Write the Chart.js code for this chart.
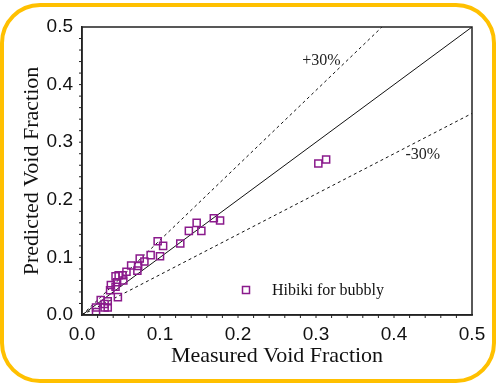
<!DOCTYPE html>
<html>
<head>
<meta charset="utf-8">
<script src="https://cdn.jsdelivr.net/npm/chart.js@4.4.1/dist/chart.umd.min.js"></script>
<style>
    html, body { margin: 0; padding: 0; background: #fff; }
    #wrap { position: relative; width: 496px; height: 383px; }
    #frame {
        position: absolute; left: 0; top: 3px; width: 496px; height: 380px;
        box-sizing: border-box; border: 4px solid #FFC000; border-radius: 40px;
        pointer-events: none;
    }
</style>
</head>
<body>
<div id="wrap">
    <canvas id="voidChart" width="496" height="383"></canvas>
    <div id="frame"></div>
</div>
<script>
// measured vs predicted void fraction (Hibiki, bubbly flow)
var measured = [0.303, 0.313, 0.169, 0.177, 0.147, 0.137, 0.153, 0.126, 0.097, 0.104,
                0.100, 0.088, 0.080, 0.074, 0.072, 0.071, 0.063, 0.057, 0.052, 0.053,
                0.047, 0.043, 0.045, 0.043, 0.037, 0.036, 0.046, 0.033, 0.024, 0.029,
                0.033, 0.029, 0.018, 0.018];
var predicted = [0.263, 0.270, 0.168, 0.164, 0.160, 0.146, 0.146, 0.124, 0.128, 0.120,
                 0.102, 0.104, 0.093, 0.098, 0.085, 0.077, 0.086, 0.075, 0.069, 0.060,
                 0.069, 0.067, 0.057, 0.049, 0.052, 0.043, 0.031, 0.024, 0.026, 0.019,
                 0.013, 0.013, 0.013, 0.005];

// reference lines: perfect agreement and +/-30%
var perfectLine = [{x: 0, y: 0}, {x: 0.5, y: 0.5}];
var plus30Line = [{x: 0, y: 0}, {x: 0.3846, y: 0.5}];
var minus30Line = [{x: 0, y: 0}, {x: 0.5, y: 0.35}];

var axisTicks = [0, 0.1, 0.2, 0.3, 0.4, 0.5];
var minorStep = 0.02;
var seriesLabel = 'Hibiki for bubbly';
var markerColor = '#8a1a8c';

var points = measured.map(function(x, i) {
    return { x: x, y: predicted[i] };
});

var extras = {
    id: 'extras',
    afterDraw: function(chart) {
        var ctx = chart.ctx;
        var a = chart.chartArea;
        var xs = chart.scales.x, ys = chart.scales.y;
        ctx.save();

        // box around plot
        ctx.strokeStyle = '#222';
        ctx.lineWidth = 1.5;
        ctx.strokeRect(a.left, a.top, a.right - a.left, a.bottom - a.top);

        // minor ticks
        ctx.lineWidth = 1;
        ctx.beginPath();
        for (var v = minorStep; v < 0.5; v += minorStep) {
            var px = xs.getPixelForValue(v);
            ctx.moveTo(px, a.bottom); ctx.lineTo(px, a.bottom + 3);
            var py = ys.getPixelForValue(v);
            ctx.moveTo(a.left, py); ctx.lineTo(a.left - 3, py);
        }
        ctx.stroke();

        // line labels
        ctx.fillStyle = '#222';
        ctx.font = '16px "Liberation Serif", serif';
        ctx.textAlign = 'center';
        ctx.textBaseline = 'middle';
        ctx.fillText('+30%', xs.getPixelForValue(0.307), ys.getPixelForValue(0.441));
        ctx.fillText('-30%', xs.getPixelForValue(0.437), ys.getPixelForValue(0.278));

        // legend inside the plot
        var lx = a.left + 164, ly = a.bottom - 25;
        ctx.strokeStyle = markerColor;
        ctx.lineWidth = 1.5;
        ctx.strokeRect(lx - 3.5, ly - 3.5, 7, 7);
        ctx.textAlign = 'left';
        ctx.fillStyle = '#111';
        ctx.fillText(seriesLabel, lx + 26, ly + 1);
        ctx.restore();
    }
};

var ctx = document.getElementById('voidChart').getContext('2d');
var voidChart = new Chart(ctx, {
    type: 'scatter',
    data: {
        datasets: [
            {
                label: seriesLabel,
                data: points,
                pointStyle: 'rect',
                pointRadius: 5,
                borderColor: markerColor,
                backgroundColor: 'rgba(0,0,0,0)',
                borderWidth: 1.5,
                order: 0
            },
            {
                type: 'line',
                data: perfectLine,
                borderColor: '#111',
                borderWidth: 1,
                pointRadius: 0,
                order: 1
            },
            {
                type: 'line',
                data: plus30Line,
                borderColor: '#111',
                borderWidth: 1,
                borderDash: [3, 3],
                pointRadius: 0,
                order: 1
            },
            {
                type: 'line',
                data: minus30Line,
                borderColor: '#111',
                borderWidth: 1,
                borderDash: [3, 3],
                pointRadius: 0,
                order: 1
            }
        ]
    },
    options: {
        responsive: false,
        animation: false,
        layout: { padding: { top: 27, right: 24, left: 0, bottom: 0 } },
        plugins: {
            legend: { display: false },
            tooltip: { enabled: false }
        },
        scales: {
            x: {
                type: 'linear',
                min: 0, max: 0.5,
                afterBuildTicks: function(scale) {
                    scale.ticks = axisTicks.map(function(v) { return { value: v }; });
                },
                afterFit: function(scale) { scale.height = 68; },
                grid: { display: false, drawTicks: true, tickLength: 5, tickColor: '#222' },
                border: { display: true, color: '#222', width: 1.5 },
                ticks: {
                    padding: 3,
                    color: '#111',
                    font: { family: '"Liberation Sans", Arial, sans-serif', size: 19 },
                    callback: function(v) { return v.toFixed(1); }
                },
                title: {
                    display: true,
                    text: 'Measured Void Fraction',
                    color: '#111',
                    font: { family: '"Liberation Serif", serif', size: 22 },
                    padding: { top: 0, bottom: 14 }
                }
            },
            y: {
                type: 'linear',
                min: 0, max: 0.5,
                afterBuildTicks: function(scale) {
                    scale.ticks = axisTicks.map(function(v) { return { value: v }; });
                },
                afterFit: function(scale) { scale.width = 82; },
                grid: { display: false, drawTicks: true, tickLength: 5, tickColor: '#222' },
                border: { display: true, color: '#222', width: 1.5 },
                ticks: {
                    padding: 4,
                    color: '#111',
                    font: { family: '"Liberation Sans", Arial, sans-serif', size: 19 },
                    callback: function(v) { return v.toFixed(1); }
                },
                title: {
                    display: true,
                    text: 'Predicted Void Fraction',
                    color: '#111',
                    font: { family: '"Liberation Serif", serif', size: 22 },
                    padding: { top: 19, bottom: 0 }
                }
            }
        }
    },
    plugins: [extras]
});
</script>
</body>
</html>
